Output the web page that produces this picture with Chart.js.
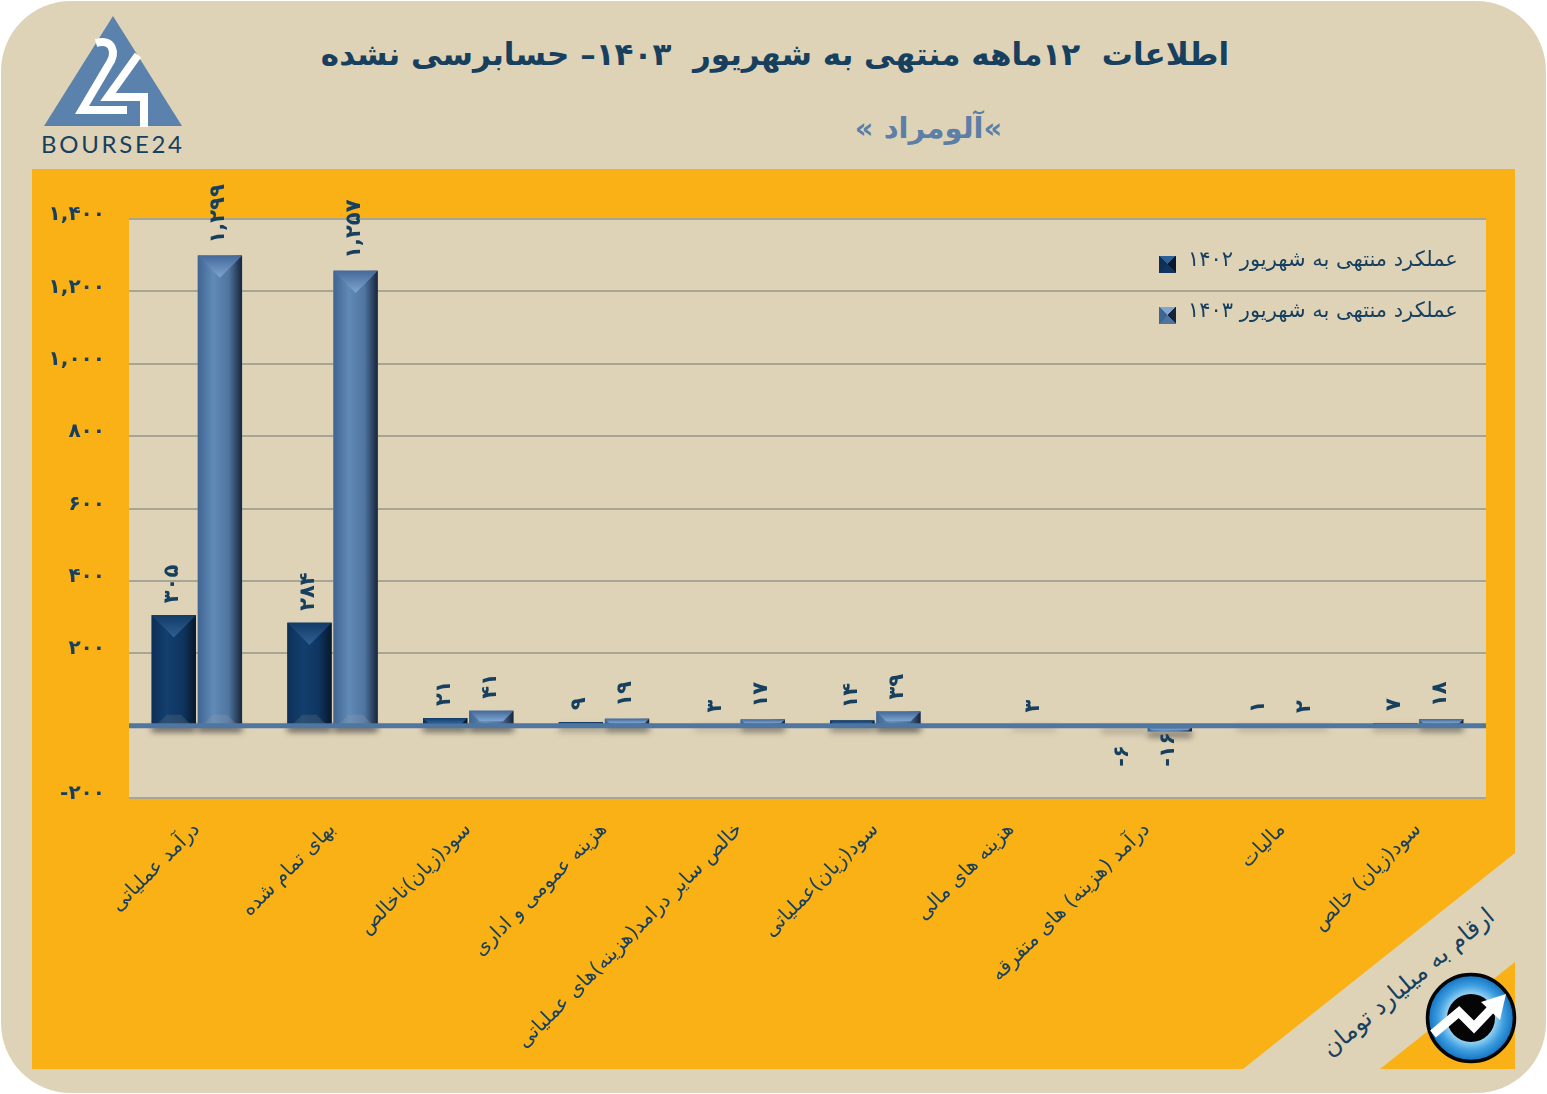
<!DOCTYPE html>
<html lang="fa">
<head>
<meta charset="utf-8">
<title>آلومراد</title>
<script src="https://cdn.jsdelivr.net/npm/chart.js@4"></script>
<style>
  html, body { margin: 0; background: #fff; overflow: hidden; }
  #page { position: relative; width: 1547px; height: 1094px; font-family: "DejaVu Sans", sans-serif; color: #17405f; }
  #art, #chart { position: absolute; left: 0; top: 0; }
  .txt { position: absolute; white-space: nowrap; direction: rtl; }
  #title { left: 0; width: 1550px; top: 36px; text-align: center; font-size: 31px; font-weight: bold; }
  #subtitle { left: 0; width: 1857px; top: 111px; text-align: center; font-size: 29px; font-weight: bold; color: #5b7fa6; }
  #note { left: 1408px; top: 982px; font-size: 24px; transform: translate(-50%, -50%) rotate(-40deg); }
  #brand { left: 41px; top: 129px; direction: ltr; font: 400 24px "Lato", sans-serif; letter-spacing: 2.7px; }
  #legend div { position: absolute; left: 1159px; }
  #legend i { position: absolute; left: 0; top: 0; width: 17px; height: 17px; }
  #legend span { position: absolute; left: 29px; top: -9px; font-size: 21px; white-space: nowrap; }
</style>
</head>
<body>
<div id="page">
  <svg id="art" width="1547" height="1094" viewBox="0 0 1547 1094">
    <defs>
      <radialGradient id="disc" cx="50%" cy="50%" r="50%">
        <stop offset="0.5" stop-color="#a9def8"/>
        <stop offset="0.75" stop-color="#3f9fe0"/>
        <stop offset="1" stop-color="#0f6fc0"/>
      </radialGradient>
    </defs>
    <rect x="1" y="1" width="1545" height="1092" rx="70" fill="#dfd3b7"/>
    <polygon points="32,169 1515,169 1515,853 1243,1069 32,1069" fill="#f9b116"/>
    <polygon points="1515,962 1515,1069 1380,1069" fill="#f9b116"/>
    <polygon points="113,16 182,126 44,126" fill="#5b82ad"/>
    <path d="M96,43 C112,38 118,52 108,66 L82,110 H127" fill="none" stroke="#fff" stroke-width="8"/>
    <path d="M138,55 L108,97 H144 V127" fill="none" stroke="#fff" stroke-width="8"/>
    <circle cx="1471" cy="1018" r="43.5" fill="url(#disc)" stroke="#050505" stroke-width="3.5"/>
    <circle cx="1471" cy="1018" r="24" fill="#050505"/>
    <path d="M1433,1034 L1459,1012 L1474,1027 L1494,1006" fill="none" stroke="#fff" stroke-width="9"/>
    <polygon points="1506,994 1500,1020 1481,1002" fill="#fff"/>
  </svg>
  <div class="txt" id="brand">BOURSE24</div>
  <div class="txt" id="title">اطلاعات&nbsp; ۱۲ماهه منتهی به شهریور&nbsp; ۱۴۰۳– حسابرسی نشده</div>
  <div class="txt" id="subtitle"><bdo dir="ltr">«</bdo>آلومراد <bdo dir="ltr">«</bdo></div>
  <div class="txt" id="note">ارقام به میلیارد تومان</div>
  <canvas id="chart" width="1547" height="1094"></canvas>
  <div id="legend"></div>
</div>
<script>
/* --------------- Data --------------------- */
const categories = [
  "درآمد عملیاتی",
  "بهای تمام شده",
  "سود(زیان)ناخالص",
  "هزینه عمومی و اداری",
  "خالص سایر درامد(هزینه)های عملیاتی",
  "سود(زیان)عملیاتی",
  "هزینه های مالی",
  "درآمد (هزینه) های متفرقه",
  "مالیات",
  "سود(زیان) خالص",
];
const values1402 = [305, 284, 21, 9, 3, 14, null, -6, 1, 7];
const values1403 = [1299, 1257, 41, 19, 17, 39, 3, -16, 2, 18];
const seriesNames = ["عملکرد منتهی به شهریور ۱۴۰۲", "عملکرد منتهی به شهریور ۱۴۰۳"];

/* --------------- Colours --------------------- */
const ink = "#17405f";
const barStyles = [
  { base: "#123f6e", stops: ["#0d3058", "#123f6e", "#0f3560", "#07182c"], bevel: ["#123c68", "#2f6094"], foot: "rgba(120,130,140,0.25)" },
  { base: "#5b82ad", stops: ["#3f6592", "#618ab7", "#4f759f", "#16253a"], bevel: ["#44699a", "#7fa6d2"], foot: "rgba(150,165,180,0.25)" },
];

const toFa = (v) => String(v).replace(/\d/g, (d) => "۰۱۲۳۴۵۶۷۸۹"[d]);
const withComma = (v) => toFa(Math.abs(v).toLocaleString("en-US"));

/* --------------- Plot background, shadows under the bars --------------------- */
const plotBackground = {
  id: "plotBackground",
  beforeDraw(chart) {
    const { ctx, chartArea: a } = chart;
    ctx.save();
    ctx.fillStyle = "#dfd3b7";
    ctx.fillRect(a.left, a.top, a.right - a.left, a.bottom - a.top);
    ctx.restore();
  },
};

const barShadows = {
  id: "barShadows",
  beforeDatasetsDraw(chart) {
    const { ctx } = chart;
    const zero = chart.scales.y.getPixelForValue(0);
    chart.data.datasets.forEach((ds, i) => {
      chart.getDatasetMeta(i).data.forEach((bar, j) => {
        if (ds.data[j] == null) return;
        const h = Math.abs(bar.y - bar.base);
        const w = bar.width;
        ctx.save();
        ctx.filter = "blur(3px)";
        ctx.fillStyle = `rgba(40,40,40,${Math.min(0.75, 0.15 + h / 12)})`;
        const y = bar.y > zero ? bar.y : zero;
        ctx.fillRect(bar.x - w / 2, y, w, 6);
        ctx.restore();
      });
    });
  },
};

/* --------------- Bevelled look of the bars, zero line, value labels --------------------- */
const barBevel = {
  id: "barBevel",
  afterDatasetsDraw(chart) {
    const { ctx } = chart;
    chart.data.datasets.forEach((ds, i) => {
      const style = barStyles[i];
      chart.getDatasetMeta(i).data.forEach((bar, j) => {
        if (ds.data[j] == null) return;
        const w = bar.width;
        const l = bar.x - w / 2;
        const r = bar.x + w / 2;
        const top = Math.min(bar.y, bar.base);
        const bottom = Math.max(bar.y, bar.base);
        const h = bottom - top;

        const side = ctx.createLinearGradient(l, 0, r, 0);
        side.addColorStop(0, style.stops[0]);
        side.addColorStop(0.35, style.stops[1]);
        side.addColorStop(0.7, style.stops[2]);
        side.addColorStop(1, style.stops[3]);
        ctx.fillStyle = side;
        ctx.fillRect(l, top, w, h);

        const d = Math.min(w / 2, h * 0.75);
        const cap = ctx.createLinearGradient(0, top, 0, top + d);
        cap.addColorStop(0, style.bevel[0]);
        cap.addColorStop(1, style.bevel[1]);
        ctx.fillStyle = cap;
        ctx.beginPath();
        ctx.moveTo(l, top);
        ctx.lineTo(r, top);
        ctx.lineTo(r - d, top + d);
        ctx.lineTo(l + d, top + d);
        ctx.closePath();
        ctx.fill();

        if (h > 40) {
          ctx.fillStyle = style.foot;
          ctx.beginPath();
          ctx.moveTo(l + 5, bottom);
          ctx.lineTo(l + 15, bottom - 10);
          ctx.lineTo(r - 15, bottom - 10);
          ctx.lineTo(r - 5, bottom);
          ctx.closePath();
          ctx.fill();
        }
      });
    });

    // the zero line runs over the feet of the bars
    const y = chart.scales.y.getPixelForValue(0);
    const a = chart.chartArea;
    ctx.save();
    ctx.strokeStyle = "#4f76a1";
    ctx.lineWidth = 5;
    ctx.beginPath();
    ctx.moveTo(a.left, y);
    ctx.lineTo(a.right, y);
    ctx.stroke();
    ctx.restore();
  },
};

const valueLabels = {
  id: "valueLabels",
  afterDraw(chart) {
    const { ctx } = chart;
    ctx.save();
    ctx.font = 'bold 21px "DejaVu Sans"';
    ctx.fillStyle = ink;
    ctx.textBaseline = "middle";
    ctx.textAlign = "left";
    chart.data.datasets.forEach((ds, i) => {
      chart.getDatasetMeta(i).data.forEach((bar, j) => {
        const v = ds.data[j];
        if (v == null) return;
        ctx.save();
        // negative labels share one foot below the zero line
        ctx.translate(bar.x - 1, v < 0 ? bar.base + 40 : bar.y - 12);
        ctx.rotate(-Math.PI / 2);
        ctx.fillText((v < 0 ? "-" : "") + withComma(v), 0, 0);
        ctx.restore();
      });
    });
    ctx.restore();
  },
};

/* --------------- Chart --------------------- */
const chart = new Chart(document.getElementById("chart"), {
  type: "bar",
  plugins: [plotBackground, barShadows, barBevel, valueLabels],
  data: {
    labels: categories,
    datasets: [
      { label: seriesNames[0], data: values1402, backgroundColor: barStyles[0].base, categoryPercentage: 0.68, barPercentage: 0.96 },
      { label: seriesNames[1], data: values1403, backgroundColor: barStyles[1].base, categoryPercentage: 0.68, barPercentage: 0.96 },
    ],
  },
  options: {
    responsive: false,
    animation: false,
    layout: { autoPadding: false, padding: { top: 219, right: 61, bottom: 0, left: 0 } },
    plugins: { legend: { display: false }, tooltip: { enabled: false } },
    scales: {
      x: {
        afterFit: (scale) => { scale.height = 296; },
        grid: { display: false },
        border: { display: false },
        ticks: {
          autoSkip: false,
          minRotation: 45,
          maxRotation: 45,
          padding: 12,
          color: ink,
          font: { family: "DejaVu Sans", size: 20 },
        },
      },
      y: {
        min: -200,
        max: 1400,
        afterFit: (scale) => { scale.width = 129; },
        grid: { color: "#a8a594", lineWidth: 2, drawTicks: false },
        border: { display: false },
        ticks: {
          stepSize: 200,
          padding: 24,
          labelOffset: -4,
          color: ink,
          font: { family: "DejaVu Sans", size: 20, weight: "bold" },
          callback: (v) => (v === 0 ? "" : (v < 0 ? "-" : "") + withComma(v)),
        },
      },
    },
  },
});

/* --------------- Legend --------------------- */
const legendBox = document.getElementById("legend");
const legendTops = [256, 307];
chart.data.datasets.forEach((ds, i) => {
  const s = barStyles[i];
  const row = document.createElement("div");
  row.style.top = legendTops[i] + "px";
  row.innerHTML = `<i style="background:conic-gradient(from -45deg, ${s.bevel[1]} 0 25%, ${s.stops[3]} 25% 50%, ${s.stops[2]} 50% 75%, ${s.stops[0]} 75%)"></i><span>${ds.label}</span>`;
  legendBox.appendChild(row);
});
</script>
</body>
</html>
